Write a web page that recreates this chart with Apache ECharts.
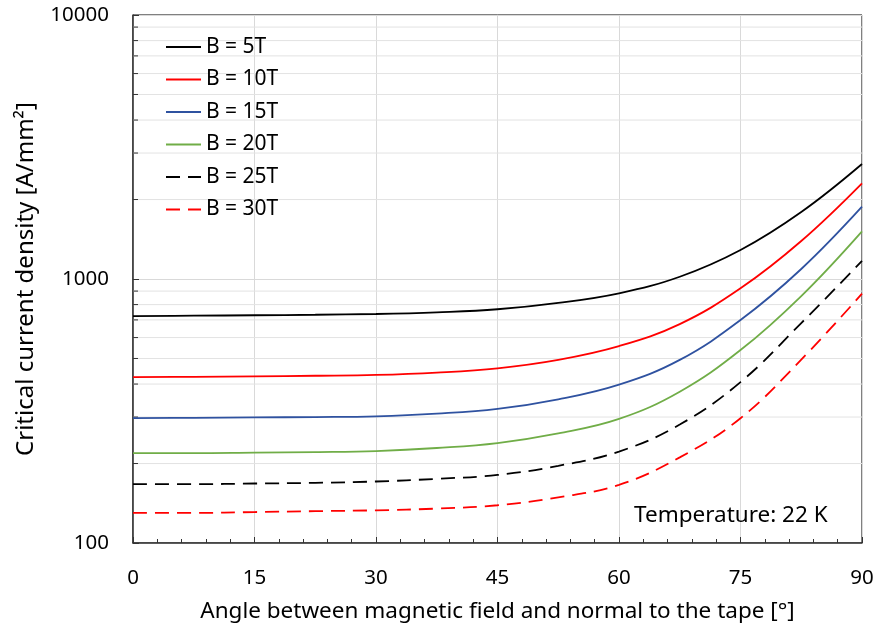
<!DOCTYPE html>
<html>
<head>
<meta charset="utf-8">
<script src="https://cdn.jsdelivr.net/npm/echarts@6/dist/echarts.min.js"></script>
<style>
  html, body { margin: 0; padding: 0; background: #fff; }
  #main { width: 878px; height: 629px; }
</style>
</head>
<body>
<div id="main"></div>
<script>
// angle [deg]
var angles = [0, 7.5, 15, 22.5, 30, 37.5, 45, 52.5, 60, 67.5, 75, 82.5, 90];
// critical current density [A/mm2]
var jc5T  = [724, 726, 729, 732, 737, 748, 768, 812, 883, 1020, 1288, 1794, 2727];
var jc10T = [425, 426, 428, 430, 433, 442, 459, 494, 557, 675, 922, 1393, 2304];
var jc15T = [297, 298, 299, 300, 302, 309, 322, 350, 398, 494, 699, 1091, 1879];
var jc20T = [219, 219, 220, 221, 223, 229, 239, 260, 295, 374, 538, 862, 1516];
var jc25T = [167, 167, 168, 169, 171, 175, 181, 196, 222, 281, 407, 681, 1170];
var jc30T = [130, 130, 131, 132, 133, 135, 139, 149, 166, 211, 297, 495, 880];
var seriesNames = ['B = 5T', 'B = 10T', 'B = 15T', 'B = 20T', 'B = 25T', 'B = 30T'];
// minor gridlines of the log axis
var minorY = [200, 300, 400, 500, 600, 700, 800, 900, 2000, 3000, 4000, 5000, 6000, 7000, 8000, 9000];

var FONT = 'Noto Sans';
var chart = echarts.init(document.getElementById('main'));

function pairs(ys) {
  return angles.map(function (a, i) { return [a, ys[i]]; });
}

function lineSeries(name, ys, color, dashed) {
  return {
    name: name,
    type: 'line',
    smooth: 0.4,
    symbol: 'none',
    data: pairs(ys),
    lineStyle: { color: color, width: 1.8, type: dashed ? [14, 8] : 'solid' },
    itemStyle: { color: color },
    z: 5
  };
}

chart.setOption({
  backgroundColor: '#fff',
  animation: false,
  textStyle: { fontFamily: FONT },
  grid: { left: 133, right: 16, top: 15, bottom: 86, show: true, borderColor: '#000', borderWidth: 1 },
  title: {
    text: 'Temperature: 22 K',
    left: 629, top: 499,
    textStyle: { fontFamily: FONT, fontSize: 22.5, fontWeight: 'normal', color: '#000' }
  },
  legend: {
    data: seriesNames,
    orient: 'vertical',
    left: 160, top: 31,
    itemWidth: 35, itemHeight: 14,
    itemGap: 10.5,
    itemStyle: { opacity: 0 },
    textStyle: { fontFamily: FONT, fontSize: 21, lineHeight: 22, color: '#000' }
  },
  xAxis: {
    type: 'value',
    min: 0, max: 90, interval: 15,
    name: 'Angle between magnetic field and normal to the tape [°]',
    nameLocation: 'middle', nameGap: 57,
    nameTextStyle: { fontFamily: FONT, fontSize: 22.5, color: '#000' },
    axisLine: { lineStyle: { color: '#333', width: 1.5 } },
    axisTick: { inside: true, length: 6, lineStyle: { color: '#333' } },
    minorTick: { show: true, splitNumber: 5, length: 4, lineStyle: { color: '#333' } },
    axisLabel: { margin: 25, fontSize: 20.5, color: '#000', fontFamily: FONT },
    splitLine: { show: true, lineStyle: { color: '#d9d9d9', width: 1 } }
  },
  yAxis: {
    type: 'log',
    logBase: 10,
    min: 100, max: 10000,
    name: 'Critical current density [A/mm²]',
    nameLocation: 'middle', nameGap: 95,
    nameTextStyle: { fontFamily: FONT, fontSize: 24, color: '#000' },
    axisLine: { show: true, lineStyle: { color: '#333', width: 1.5 } },
    axisTick: { inside: true, length: 6, lineStyle: { color: '#333' } },
    axisLabel: {
      margin: 24, fontSize: 20.5, color: '#000', fontFamily: FONT,
      formatter: function (v) { return String(Math.round(v)); }
    },
    splitLine: { show: true, lineStyle: { color: '#d9d9d9', width: 1 } }
  },
  series: [
    {
      type: 'custom',
      name: 'minorGrid',
      silent: true,
      z: 1,
      data: minorY.map(function (v) { return [0, v]; }),
      encode: { x: 0, y: 1 },
      renderItem: function (params, api) {
        var v = api.value(1);
        var p0 = api.coord([0, v]);
        var p1 = api.coord([90, v]);
        return {
          type: 'group',
          children: [
            { type: 'line', shape: { x1: p0[0], y1: p0[1], x2: p1[0], y2: p1[1] },
              style: { stroke: '#e3e3e3', lineWidth: 1 } },
            { type: 'line', shape: { x1: p0[0], y1: p0[1], x2: p0[0] + 5, y2: p0[1] },
              style: { stroke: '#333', lineWidth: 1 } }
          ]
        };
      }
    },
    lineSeries(seriesNames[0], jc5T, '#000000', false),
    lineSeries(seriesNames[1], jc10T, '#ff0000', false),
    lineSeries(seriesNames[2], jc15T, '#2f52a0', false),
    lineSeries(seriesNames[3], jc20T, '#70ad47', false),
    lineSeries(seriesNames[4], jc25T, '#000000', true),
    lineSeries(seriesNames[5], jc30T, '#ff0000', true)
  ]
});
</script>
</body>
</html>
